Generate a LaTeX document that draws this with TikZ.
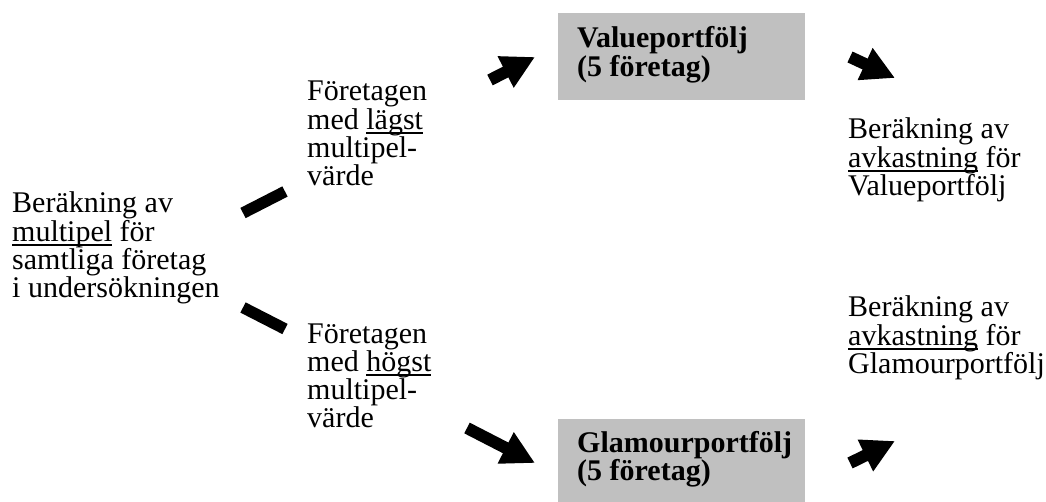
\documentclass[tikz,border=0pt]{standalone}
\usepackage{fontspec}
\setmainfont{Liberation Serif}
\usetikzlibrary{arrows.meta}
\newcommand\mlines[1]{\vtop{\baselineskip=28.3pt\lineskiplimit=-100pt\lineskip=0pt #1}}
\newcommand\ul[1]{\setbox0\hbox{#1}\rlap{\rule[-4.5pt]{\wd0}{1.6pt}}\box0\relax}
\definecolor{boxgray}{RGB}{192,192,192}
\begin{document}
\begin{tikzpicture}[x=1pt,y=-1pt,
  txt/.style={anchor=base west, inner sep=0pt, font=\fontsize{30}{28.3}\selectfont},
  btxt/.style={anchor=base west, inner sep=0pt, font=\fontsize{30}{28.3}\selectfont\bfseries},
  pbox/.style={fill=boxgray, draw=none},
  seg/.style={line width=11.5pt, line cap=butt},
  barrow/.style={line width=12pt, -{Triangle[length=33pt,width=33pt]}}]
\useasboundingbox (0,0) rectangle (1046,502);
\clip (0,0) rectangle (1046,502);
% boxes
\fill[pbox] (558,13) rectangle (805,100);
\fill[pbox] (558,419) rectangle (805,506);
\node[btxt] (value) at (577,48) {\mlines{\hbox{Valueportfölj}\hbox{(5 företag)}}};
\node[btxt] (glamour) at (577,452) {\mlines{\hbox{Glamourportfölj}\hbox{(5 företag)}}};
% texts
\node[txt] (calc) at (12,213) {\mlines{\hbox{Beräkning av}\hbox{\ul{multipel} för}\hbox{samtliga företag}\hbox{i undersökningen}}};
\node[txt] (low) at (307,101) {\mlines{\hbox{Företagen}\hbox{med \ul{lägst}}\hbox{multipel-}\hbox{värde}}};
\node[txt] (high) at (307,343) {\mlines{\hbox{Företagen}\hbox{med \ul{högst}}\hbox{multipel-}\hbox{värde}}};
\node[txt] (retv) at (848,139) {\mlines{\hbox{Beräkning av}\hbox{\ul{avkastning} för}\hbox{Valueportfölj}}};
\node[txt] (retg) at (848,317) {\mlines{\hbox{Beräkning av}\hbox{\ul{avkastning} för}\hbox{Glamourportfölj}}};
% connectors
\coordinate (s1a) at (243,213); \coordinate (s1b) at (285,191.5);
\coordinate (s2a) at (243,307.5); \coordinate (s2b) at (285,329);
\coordinate (a1a) at (490,80); \coordinate (a1b) at (535,57);
\coordinate (a2a) at (467,428); \coordinate (a2b) at (535,463);
\coordinate (a3a) at (850,57); \coordinate (a3b) at (895,78);
\coordinate (a4a) at (850,463); \coordinate (a4b) at (895,441);
\draw[seg] (s1a) -- (s1b);
\draw[seg] (s2a) -- (s2b);
\draw[barrow] (a1a) -- (a1b);
\draw[barrow] (a2a) -- (a2b);
\draw[barrow] (a3a) -- (a3b);
\draw[barrow] (a4a) -- (a4b);
\end{tikzpicture}
\end{document}
